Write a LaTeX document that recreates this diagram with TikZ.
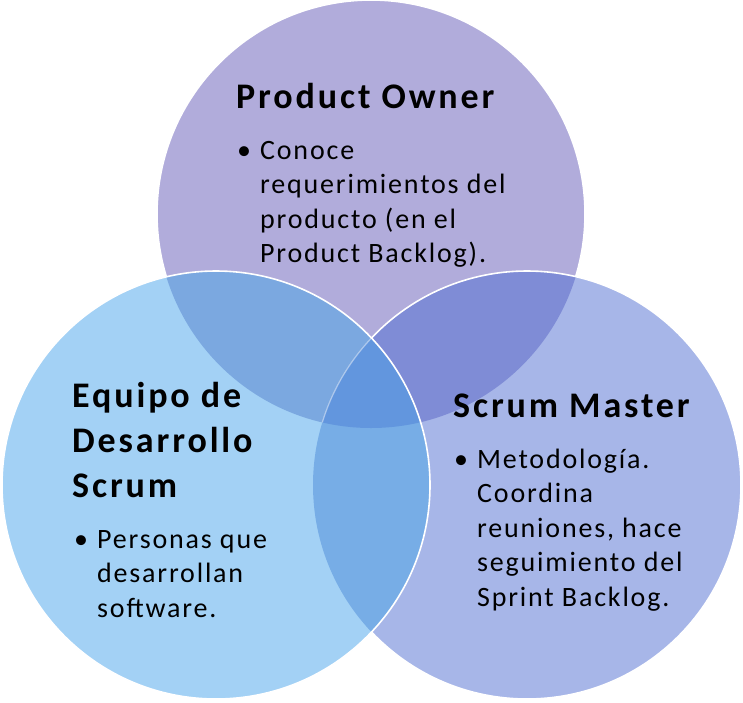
\documentclass[tikz,border=0pt]{standalone}
\usepackage{fontspec}
\setmainfont{Carlito}[LetterSpace=6.5]
\definecolor{topc}{HTML}{B1ACDB}
\definecolor{leftc}{HTML}{A3D1F5}
\definecolor{rightc}{HTML}{A7B6E8}
\definecolor{tlc}{HTML}{7BA8E0}
\definecolor{trc}{HTML}{7F8CD6}
\definecolor{lrc}{HTML}{77ADE6}
\definecolor{allc}{HTML}{6296DE}
\begin{document}
\begin{tikzpicture}[x=1pt,y=-1pt,
  rim/.style={draw=white,line width=1.6pt},
  head/.style={anchor=base west,inner sep=0pt,font=\bfseries\fontsize{36}{45}\selectfont\addfontfeatures{LetterSpace=8}},
  body/.style={anchor=base west,inner sep=0pt,font=\fontsize{28}{34}\selectfont},
  dot/.style={anchor=base west,inner sep=0pt,font=\fontsize{28}{34}\selectfont}]
\useasboundingbox (0,0) rectangle (743,702);
\def\rad{214pt}
\coordinate (T) at (371,214);
\coordinate (L) at (216,485);
\coordinate (R) at (527,485);

% single-set areas
\fill[topc] (T) circle (\rad);
\fill[rightc] (R) circle (\rad);
\fill[leftc] (L) circle (\rad);
% pairwise overlaps
\begin{scope}
  \clip (T) circle (\rad);
  \fill[tlc] (L) circle (\rad);
  \fill[trc] (R) circle (\rad);
\end{scope}
\begin{scope}
  \clip (L) circle (\rad);
  \fill[lrc] (R) circle (\rad);
\end{scope}
% centre overlap
\begin{scope}
  \clip (T) circle (\rad);
  \clip (L) circle (\rad);
  \fill[allc] (R) circle (\rad);
\end{scope}

% white rims
\begin{scope}[even odd rule]
  \clip (-10,-10) rectangle (753,712) (L) circle (\rad);
  \begin{scope}[even odd rule]
    \clip (-10,-10) rectangle (753,712) (R) circle (\rad);
    \draw[rim] (T) circle (\rad);
  \end{scope}
  \draw[rim] (R) circle (\rad);
\end{scope}
\begin{scope}
  \clip (T) circle (\rad);
  \clip (L) circle (\rad);
  \draw[rim,draw opacity=0.45,line width=1.2pt] (R) circle (\rad);
\end{scope}
\draw[rim] (L) circle (\rad);

% Product Owner
\node[head] (poH) at (236,108) {Product Owner};
\node[dot]  (poB) at (237,159) {•};
\node[body] (po1) at (260,159) {Conoce};
\node[body] (po2) at (260,193.5) {requerimientos del};
\node[body] (po3) at (260,228) {producto (en el};
\node[body] (po4) at (260,262.5) {Product Backlog).};

% Equipo de Desarrollo Scrum
\node[head] (edH1) at (72,407) {Equipo de};
\node[head] (edH2) at (72,452) {Desarrollo};
\node[head] (edH3) at (72,497) {Scrum};
\node[dot]  (edB) at (74,548) {•};
\node[body] (ed1) at (97,548) {Personas que};
\node[body] (ed2) at (97,582.5) {desarrollan};
\node[body] (ed3) at (97,617) {software.};

% Scrum Master
\node[head] (smH) at (453,417) {Scrum Master};
\node[dot]  (smB) at (454,468) {•};
\node[body] (sm1) at (477,468) {Metodología.};
\node[body] (sm2) at (477,502.5) {Coordina};
\node[body] (sm3) at (477,537) {reuniones, hace};
\node[body] (sm4) at (477,571.5) {seguimiento del};
\node[body] (sm5) at (477,606) {Sprint Backlog.};
\end{tikzpicture}
\end{document}
